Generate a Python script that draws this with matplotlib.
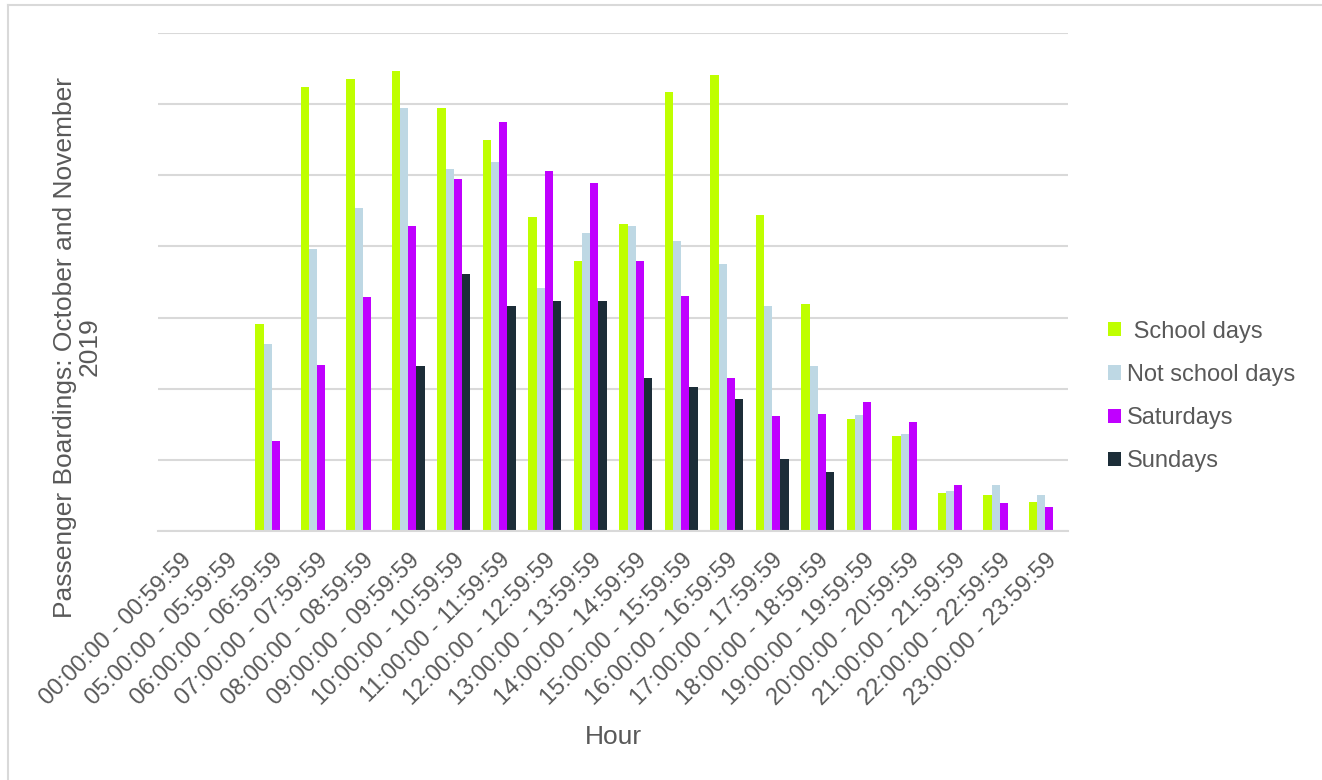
import matplotlib
matplotlib.use("Agg")
import matplotlib.pyplot as plt
import numpy as np
from matplotlib.patches import Patch
from matplotlib.lines import Line2D

plt.rcParams['font.family'] = ['Liberation Sans', 'DejaVu Sans']

categories = ["00:00:00 - 00:59:59", "05:00:00 - 05:59:59", "06:00:00 - 06:59:59",
              "07:00:00 - 07:59:59", "08:00:00 - 08:59:59", "09:00:00 - 09:59:59",
              "10:00:00 - 10:59:59", "11:00:00 - 11:59:59", "12:00:00 - 12:59:59",
              "13:00:00 - 13:59:59", "14:00:00 - 14:59:59", "15:00:00 - 15:59:59",
              "16:00:00 - 16:59:59", "17:00:00 - 17:59:59", "18:00:00 - 18:59:59",
              "19:00:00 - 19:59:59", "20:00:00 - 20:59:59", "21:00:00 - 21:59:59",
              "22:00:00 - 22:59:59", "23:00:00 - 23:59:59"]

school_days = [0, 0, 2906, 6244, 6357, 6460, 5948, 5498, 4413, 3793,
               4319, 6169, 6413, 4437, 3188, 1568, 1338, 540, 507, 404]
not_school_days = [0, 0, 2624, 3962, 4540, 5948, 5089, 5192, 3413, 4188,
                   4282, 4075, 3756, 3160, 2315, 1624, 1366, 568, 653, 507]
saturdays = [0, 0, 1268, 2338, 3291, 4286, 4944, 5746, 5056, 4887,
             3793, 3310, 2146, 1610, 1643, 1808, 1526, 653, 390, 343]
sundays = [0, 0, 0, 0, 0, 2324, 3610, 3160, 3230, 3239,
           2146, 2019, 1850, 1014, 836, 0, 0, 0, 0, 0]

series_labels = [" School days", "Not school days", "Saturdays", "Sundays"]
colors = ["#BFFF00", "#BED8E4", "#C000FF", "#1C2D38"]
series = [school_days, not_school_days, saturdays, sundays]

W, H = 1322, 780
fig = plt.figure(figsize=(W / 100, H / 100), dpi=100)
fig.patch.set_facecolor("white")

# figure border (top and left visible)
fig.add_artist(Line2D([7.5 / W, 1.0], [1 - 4.5 / H, 1 - 4.5 / H], transform=fig.transFigure,
                      color="#D9D9D9", lw=1.5))
fig.add_artist(Line2D([7.5 / W, 7.5 / W], [0, 1 - 4.5 / H], transform=fig.transFigure,
                      color="#D9D9D9", lw=1.5))

ax = fig.add_axes([158 / W, 1 - 531 / H, (1068 - 158) / W, (531 - 33) / H])
x = np.arange(len(categories))
bw = 0.18
offsets = [-1.5, -0.5, 0.5, 1.5]
for vals, c, lab, o in zip(series, colors, series_labels, offsets):
    ax.bar(x + o * bw, vals, width=bw, color=c, label=lab, zorder=3)

ax.set_xlim(-0.5, len(categories) - 0.5)
ax.set_ylim(0, 7000)
ax.set_yticks(np.arange(0, 7001, 1000))
ax.yaxis.grid(True, color="#D9D9D9", lw=1.5, zorder=0)
ax.tick_params(axis='y', left=False, labelleft=False)
for s in ["top", "right", "left"]:
    ax.spines[s].set_visible(False)
ax.spines["bottom"].set_color("#D9D9D9")
ax.spines["bottom"].set_linewidth(1.5)
ax.spines["bottom"].set_zorder(4)

ax.set_xticks(x)
ax.set_xticklabels(categories, rotation=45, ha='right', va='top',
                   rotation_mode='anchor', fontsize=17, color="#595959")
ax.tick_params(axis='x', length=0, pad=13)

fig.text(77 / W, 1 - 347 / H, "Passenger Boardings: October and November\n2019",
         rotation=90, ha='center', va='center', multialignment='center',
         fontsize=19, color="#595959", linespacing=1.05)
fig.text(613 / W, 1 - 737 / H, "Hour", ha='center', va='center',
         fontsize=19, color="#595959")

handles = [Patch(facecolor=c, edgecolor='none') for c in colors]
leg = fig.legend(handles, series_labels, loc='center left',
                 bbox_to_anchor=(1108 / W, 1 - 396.5 / H), bbox_transform=fig.transFigure,
                 frameon=False, fontsize=17, handlelength=0.55, handleheight=0.55,
                 handletextpad=0.25, labelspacing=0.9, borderpad=0, borderaxespad=0)
for t in leg.get_texts():
    t.set_color("#595959")

fig.savefig("out.png", dpi=100, facecolor="white")
